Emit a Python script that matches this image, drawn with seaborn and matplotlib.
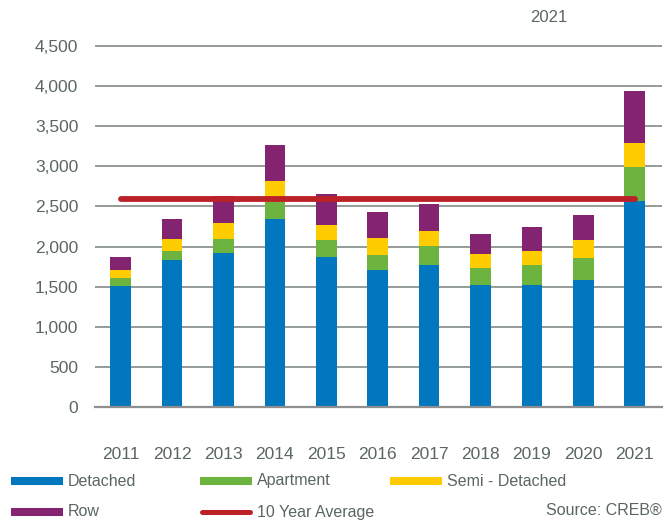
import matplotlib
matplotlib.use("Agg")
import matplotlib.pyplot as plt
from matplotlib.lines import Line2D
import seaborn as sns
import pandas as pd

years = ["2011", "2012", "2013", "2014", "2015", "2016", "2017", "2018", "2019", "2020", "2021"]
detached = [1510, 1833, 1917, 2345, 1875, 1708, 1771, 1521, 1517, 1589, 2565]
apartment = [100, 112, 183, 210, 208, 184, 233, 212, 250, 265, 424]
semi_detached = [95, 155, 195, 260, 187, 216, 191, 171, 174, 225, 308]
row = [160, 245, 333, 449, 379, 324, 333, 258, 300, 312, 636]
ten_year_average = 2588
y_ticks = [0, 500, 1000, 1500, 2000, 2500, 3000, 3500, 4000, 4500]

series_names = ["Detached", "Apartment", "Semi - Detached", "Row"]
colors = {"Detached": "#0077BE", "Apartment": "#6CB33F",
          "Semi - Detached": "#FFCC00", "Row": "#842370"}
avg_color = "#BA2228"
text_color = "#5A6661"

df = pd.DataFrame({"year": years, "Detached": detached, "Apartment": apartment,
                   "Semi - Detached": semi_detached, "Row": row})
cum = df[series_names].cumsum(axis=1)

sns.set_theme(style="white")
plt.rcParams["font.family"] = ["Liberation Sans", "DejaVu Sans"]

fig = plt.figure(figsize=(6.65, 5.23), dpi=100)
ax_left, ax_right = 95 / 665, 662 / 665
ax_bottom = 1 - 407 / 523
ymax = 4560
px_per_unit = 361 / 4500
ax_top = 1 - (407 - ymax * px_per_unit) / 523
ax = fig.add_axes([ax_left, ax_bottom, ax_right - ax_left, ax_top - ax_bottom])

# stacked bars: draw cumulative totals from top layer down
for name in reversed(series_names):
    sns.barplot(x=df["year"], y=cum[name], color=colors[name], width=0.4,
                saturation=1, ax=ax, zorder=3, linewidth=0)

ax.plot([0, len(years) - 1], [ten_year_average, ten_year_average],
        color=avg_color, lw=4.2, solid_capstyle="round", zorder=5)

ax.set_xlim(-0.5, len(years) - 0.5 + 0.03)
ax.set_ylim(0, ymax)
ax.set_yticks(y_ticks)
ax.set_yticklabels([f"{v:,}" for v in y_ticks])
ax.set_xlabel("")
ax.set_ylabel("")
ax.yaxis.grid(True, color="#76807C", lw=1.1, zorder=0)
ax.xaxis.grid(False)
for s in ["top", "right", "left"]:
    ax.spines[s].set_visible(False)
ax.spines["bottom"].set_color("#8F8F8F")
ax.spines["bottom"].set_linewidth(1.6)
ax.spines["bottom"].set_zorder(6)
ax.tick_params(axis="y", length=0, pad=12, labelsize=12.5, labelcolor=text_color)
ax.tick_params(axis="x", length=0, pad=29, labelsize=12.5, labelcolor=text_color)

# title-like label at top
fig.text(549 / 665, 1 - 17 / 523, "2021", ha="center", va="center",
         fontsize=12, color=text_color)

# legend (manual, fig coords)
def fx(px):
    return px / 665

def fy(py):
    return 1 - py / 523

legend_items = [
    ("Detached", colors["Detached"], 11, 63, 68, 481, "patch"),
    ("Apartment", colors["Apartment"], 200, 252, 257, 481, "patch"),
    ("Semi - Detached", colors["Semi - Detached"], 390, 442, 447, 481, "patch"),
    ("Row", colors["Row"], 11, 63, 68, 512, "patch"),
    ("10 Year Average", avg_color, 200, 252, 257, 512, "line"),
]
for label, col, x0, x1, xt, yc, kind in legend_items:
    if kind == "patch":
        fig.add_artist(Line2D([fx(x0), fx(x1)], [fy(yc), fy(yc)], color=col,
                              lw=5.8, solid_capstyle="butt", transform=fig.transFigure))
    else:
        fig.add_artist(Line2D([fx(x0 + 2), fx(x1 - 2)], [fy(yc), fy(yc)], color=col,
                              lw=3.6, solid_capstyle="round", transform=fig.transFigure))
    fig.text(fx(xt), fy(yc), label, ha="left", va="center", fontsize=11.5,
             color=text_color)

fig.text(fx(662), fy(510), "Source: CREB®", ha="right", va="center",
         fontsize=11.5, color=text_color)

fig.savefig("out.png", dpi=100)
